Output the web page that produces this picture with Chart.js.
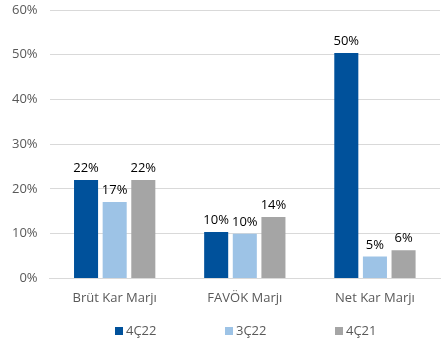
<!DOCTYPE html>
<html>
<head>
<meta charset="utf-8">
<script src="https://cdn.jsdelivr.net/npm/chart.js@4.4.0/dist/chart.umd.min.js"></script>
<style>
  html, body { margin: 0; padding: 0; background: #fff; }
  #wrap { width: 441px; height: 347px; }
</style>
</head>
<body>
<div id="wrap"><canvas id="c" width="441" height="347"></canvas></div>
<script>
// Veriler
const categories = ['Brüt Kar Marjı', 'FAVÖK Marjı', 'Net Kar Marjı'];
const seriesNames = ['4Ç22', '3Ç22', '4Ç21'];
const q4_22 = [22.0, 10.4, 50.4];
const q3_22 = [17.1, 10.0, 4.9];
const q4_21 = [22.0, 13.7, 6.3];
const yTicks = [0, 10, 20, 30, 40, 50, 60];

const colors = ['#00519b', '#9dc3e6', '#a5a5a5'];
const fontFamily = "'Open Sans', 'Noto Sans', sans-serif";

// Çubuk üstü etiketler
const barLabels = {
  id: 'barLabels',
  afterDatasetsDraw(chart) {
    const c = chart.ctx;
    c.save();
    c.fillStyle = '#000';
    c.font = '13px ' + fontFamily;
    c.textAlign = 'center';
    c.textBaseline = 'bottom';
    chart.data.datasets.forEach((ds, i) => {
      chart.getDatasetMeta(i).data.forEach((bar, j) => {
        c.fillText(Math.round(ds.data[j]) + '%', bar.x, bar.y - 5);
      });
    });
    c.restore();
  }
};

// Alt lejant (geniş aralıklı)
const wideLegend = {
  id: 'wideLegend',
  afterDraw(chart) {
    const c = chart.ctx;
    const step = 110;
    const startX = 115;
    const y = 331;
    c.save();
    c.font = '13px ' + fontFamily;
    c.textBaseline = 'middle';
    chart.data.datasets.forEach((ds, i) => {
      const x = startX + i * step;
      c.fillStyle = ds.backgroundColor;
      c.fillRect(x, y - 4, 8, 8);
      c.fillStyle = '#595959';
      c.fillText(ds.label, x + 11, y);
    });
    c.restore();
  }
};

new Chart(document.getElementById('c'), {
  type: 'bar',
  data: {
    labels: categories,
    datasets: [
      { label: seriesNames[0], data: q4_22, backgroundColor: colors[0] },
      { label: seriesNames[1], data: q3_22, backgroundColor: colors[1] },
      { label: seriesNames[2], data: q4_21, backgroundColor: colors[2] }
    ]
  },
  options: {
    responsive: false,
    animation: false,
    devicePixelRatio: 1,
    layout: { padding: { left: 0, right: 1, top: 10, bottom: 37 } },
    datasets: { bar: { categoryPercentage: 0.66, barPercentage: 0.84 } },
    plugins: {
      legend: { display: false },
      tooltip: { enabled: false }
    },
    scales: {
      x: {
        grid: { display: false },
        border: { color: '#d9d9d9' },
        ticks: { color: '#595959', font: { size: 13, family: fontFamily }, padding: 4 }
      },
      y: {
        min: 0,
        max: 60,
        afterBuildTicks(axis) { axis.ticks = yTicks.map(v => ({ value: v })); },
        afterFit(axis) { axis.paddingTop = 0; },
        grid: { color: '#d9d9d9', drawTicks: false },
        border: { display: false },
        ticks: {
          color: '#595959',
          font: { size: 13, family: fontFamily },
          padding: 12,
          callback: v => v + '%'
        }
      }
    }
  },
  plugins: [barLabels, wideLegend]
});
</script>
</body>
</html>
